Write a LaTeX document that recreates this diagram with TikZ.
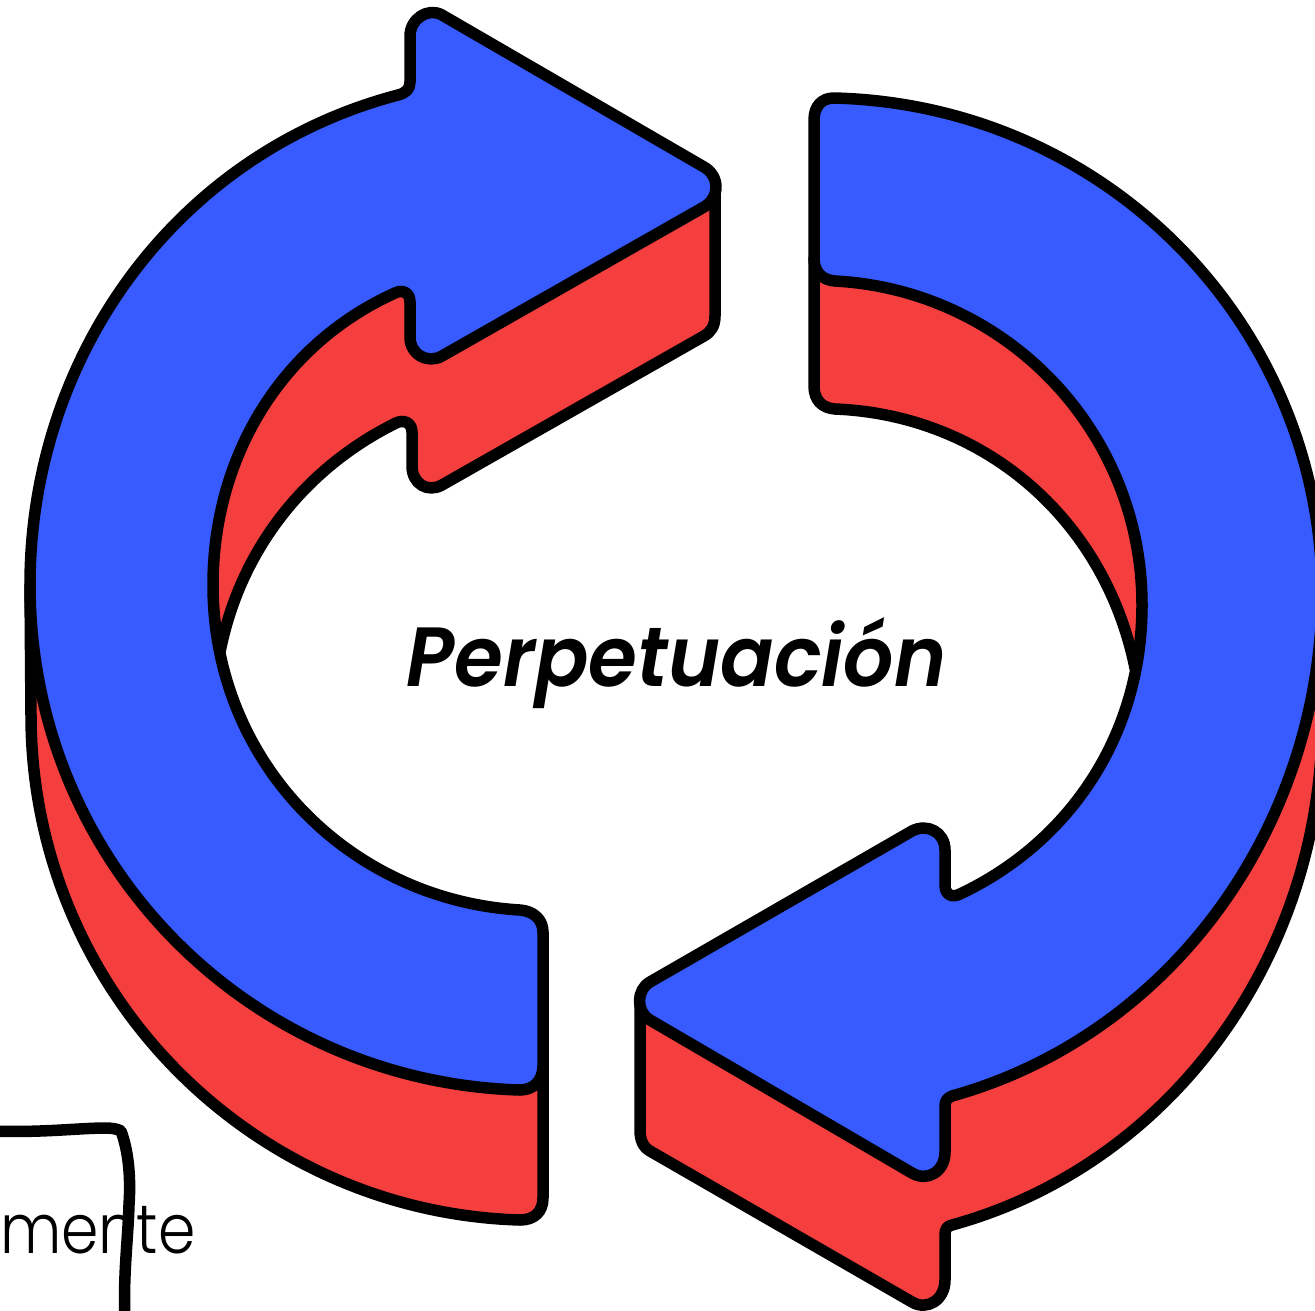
\documentclass[tikz,border=0pt]{standalone}
\usepackage{fontspec}
\setmainfont{Poppins Light}
\newfontfamily\titlefont{Poppins SemiBold Italic}
\definecolor{arrowblue}{HTML}{375BFF}
\definecolor{arrowred}{HTML}{F53F3F}
\tikzset{
  face/.style={draw=black,line width=11.5pt,line join=round,fill=arrowblue},
  side/.style={draw=black,line width=11.5pt,line join=round,fill=arrowred},
  penline/.style={draw=black,line width=11.5pt,line cap=round,line join=round},
}
\begin{document}
\begin{tikzpicture}[x=1pt,y=-1pt]
\useasboundingbox (0,0) rectangle (1315,1310);
\clip (0,0) rectangle (1315,1310);
% bottom-left fragment
\node[anchor=base west,inner sep=0pt,font=\fontsize{69}{69}\selectfont] (word) at (0,1253) {\scalebox{.87}[1]{mente}};
\draw[penline] (-10,1131) .. controls (40,1133) and (80,1128) .. (105,1128) .. controls (112,1128) and (118,1129) .. (121,1131) .. controls (128,1150) and (131,1175) .. (129,1205) .. controls (128,1240) and (123,1275) .. (125,1320);
% left arrow, red side
\path[side] (715,190) -- (715,316) .. controls (715,326) and (711,332) .. (704,336)
  -- (442,485) .. controls (428,493) and (412,484) .. (412,466)
  -- (412,432) .. controls (412,423) and (404,419) .. (396,423)
  .. controls (305,468) and (240,550) .. (220,652)
  -- (150,600) -- (300,200) -- cycle;
\path[side] (30,585) -- (31,715) .. controls (31,990) and (250,1212) .. (520,1220)
  .. controls (534,1220) and (543,1212) .. (543,1198)
  -- (543,1060) -- (300,900) -- cycle;
% right arrow, red side
\path[side] (814,258) -- (814,386) .. controls (814,400) and (822,408) .. (835,409)
  .. controls (985,415) and (1105,520) .. (1135,668)
  -- (1200,600) -- (1000,250) -- cycle;
\path[side] (1322,730) .. controls (1318,960) and (1170,1165) .. (952,1225)
  .. controls (947,1226) and (945,1229) .. (945,1235)
  -- (945,1280) .. controls (945,1300) and (927,1311) .. (912,1302)
  -- (650,1151) .. controls (643,1147) and (640,1140) .. (640,1130)
  -- (640,1000) -- (900,1050) -- (1200,800) -- (1322,600) -- cycle;
% left arrow, blue face
\path[face] (442,15) -- (704,167) .. controls (720,176) and (720,198) .. (704,207)
  -- (442,356) .. controls (428,364) and (410,355) .. (410,337)
  -- (410,302) .. controls (410,293) and (403,289) .. (395,293)
  .. controls (280,345) and (213,458) .. (213,585)
  .. controls (213,763) and (350,900) .. (520,910)
  .. controls (534,911) and (543,920) .. (543,932)
  -- (543,1066) .. controls (543,1080) and (534,1090) .. (520,1090)
  .. controls (250,1082) and (30,864) .. (30,585)
  .. controls (30,358) and (174,154) .. (398,95)
  .. controls (406,93) and (410,89) .. (410,82)
  -- (410,36) .. controls (410,19) and (428,7) .. (442,15) -- cycle;
% right arrow, blue face
\path[face] (834,98) .. controls (1110,105) and (1325,330) .. (1322,600)
  .. controls (1318,830) and (1170,1035) .. (952,1096)
  .. controls (947,1098) and (945,1101) .. (945,1106)
  -- (945,1152) .. controls (945,1172) and (927,1182) .. (912,1173)
  -- (650,1020) .. controls (636,1012) and (636,990) .. (650,982)
  -- (912,831) .. controls (927,823) and (945,832) .. (945,850)
  -- (945,885) .. controls (945,895) and (952,898) .. (960,894)
  .. controls (1070,842) and (1142,735) .. (1142,605)
  .. controls (1142,430) and (1005,290) .. (835,281)
  .. controls (822,280) and (814,272) .. (814,258)
  -- (814,120) .. controls (814,106) and (822,98) .. (834,98) -- cycle;
% label
\node[inner sep=0pt,font=\titlefont\fontsize{84}{84}\selectfont,anchor=base] (label) at (676.5,686) {\scalebox{.942}[1]{Perpetuación}};
\end{tikzpicture}
\end{document}
